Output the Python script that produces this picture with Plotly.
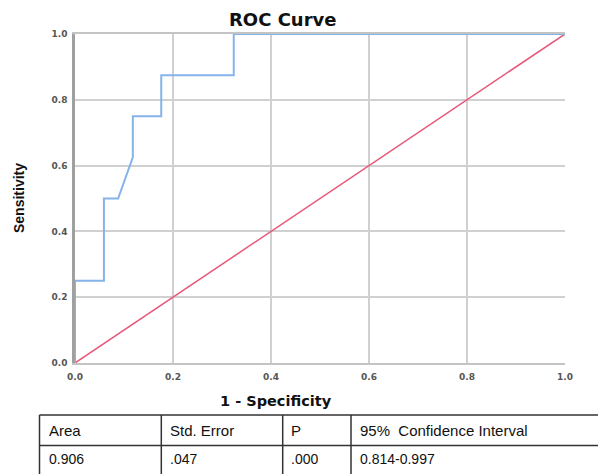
import plotly.graph_objects as go

# ---- data ----
fpr = [0.0, 0.0, 0.059, 0.059, 0.088, 0.118, 0.118, 0.176, 0.176, 0.324, 0.324, 1.0]
tpr = [0.0, 0.25, 0.25, 0.5, 0.5, 0.625, 0.75, 0.75, 0.875, 0.875, 1.0, 1.0]
ref_x = [0.0, 1.0]
ref_y = [0.0, 1.0]
tick_vals = [0.0, 0.2, 0.4, 0.6, 0.8, 1.0]
tick_text = ["0.0", "0.2", "0.4", "0.6", "0.8", "1.0"]
table_header = ["Area", "Std. Error", "P", "95%\u00a0 Confidence Interval"]
table_values = ["0.906", ".047", ".000", "0.814-0.997"]

OFF = 8  # page body margin
W, H = 606 - OFF, 474 - OFF
L, R, T, B = 75 - OFF, 565 - OFF, 34 - OFF, 363 - OFF  # plot area in figure pixels


def px_x(p):
    return (p - OFF - L) / (R - L)


def px_y(p):
    return (B - (p - OFF)) / (B - T)


FONT = "Liberation Sans, Arial, sans-serif"
WIDE = "DejaVu Sans, Verdana, sans-serif"

fig = go.Figure()
fig.add_trace(go.Scatter(x=ref_x, y=ref_y, mode="lines",
                         line=dict(color="#E8577A", width=1.5), hoverinfo="skip"))
fig.add_trace(go.Scatter(x=fpr, y=tpr, mode="lines",
                         line=dict(color="#86B3EA", width=2), hoverinfo="skip"))

axis_font = dict(family=WIDE, size=9, color="#555555", weight="bold")
fig.update_xaxes(range=[0, 1], tickvals=tick_vals, ticktext=tick_text,
                 showgrid=True, gridcolor="#d0d0d0", gridwidth=1.5,
                 showline=True, linecolor="#c4c4c4", linewidth=1.5, mirror=True,
                 zeroline=False, ticks="", tickfont=axis_font, ticklabelstandoff=4)
fig.update_yaxes(range=[0, 1], tickvals=tick_vals, ticktext=tick_text,
                 showgrid=True, gridcolor="#d0d0d0", gridwidth=1.5,
                 showline=True, linecolor="#a0a0a0", linewidth=2.5,
                 zeroline=False, ticks="", tickfont=axis_font, ticklabelstandoff=3)

ann = []
ann.append(dict(text="<b>ROC Curve</b>", x=px_x(282), y=px_y(20), xref="paper", yref="paper",
                showarrow=False, font=dict(family=WIDE, size=18, color="#111111"),
                xanchor="center", yanchor="middle"))
ann.append(dict(text="<b>1 - Specificity</b>", x=px_x(276), y=px_y(401), xref="paper", yref="paper",
                showarrow=False, font=dict(family=WIDE, size=14.5, color="#111111"),
                xanchor="center", yanchor="middle"))
ann.append(dict(text="<b>Sensitivity</b>", x=px_x(19), y=px_y(198), xref="paper", yref="paper",
                showarrow=False, textangle=-90, font=dict(family=FONT, size=14, color="#111111"),
                xanchor="center", yanchor="middle"))

# table
col_edges = [39.5, 161.3, 282.7, 351, 606]
row_edges = [415, 445.5, 477]
text_x = [47, 168, 289, 357.5]
shapes = []
for yv in row_edges:
    shapes.append(dict(type="line", xref="paper", yref="paper",
                       x0=px_x(col_edges[0]), x1=px_x(col_edges[-1]), y0=px_y(yv), y1=px_y(yv),
                       line=dict(color="#333333", width=1.5)))
for xv in col_edges[:-1]:
    shapes.append(dict(type="line", xref="paper", yref="paper",
                       x0=px_x(xv), x1=px_x(xv), y0=px_y(row_edges[0]), y1=px_y(row_edges[-1]),
                       line=dict(color="#333333", width=1.5)))
for i, (h, v) in enumerate(zip(table_header, table_values)):
    ann.append(dict(text=h, x=px_x(text_x[i]), y=px_y(430.5), xref="paper", yref="paper",
                    showarrow=False, font=dict(family=FONT, size=15, color="#111111"),
                    xanchor="left", yanchor="middle"))
    ann.append(dict(text=v, x=px_x(text_x[i]), y=px_y(459), xref="paper", yref="paper",
                    showarrow=False, font=dict(family=FONT, size=14, color="#111111"),
                    xanchor="left", yanchor="middle"))

fig.update_layout(width=W, height=H, showlegend=False,
                  margin=dict(l=L, r=W - R, t=T, b=H - B, pad=0),
                  plot_bgcolor="white", paper_bgcolor="white",
                  annotations=ann, shapes=shapes)

fig.write_html("out.html")
